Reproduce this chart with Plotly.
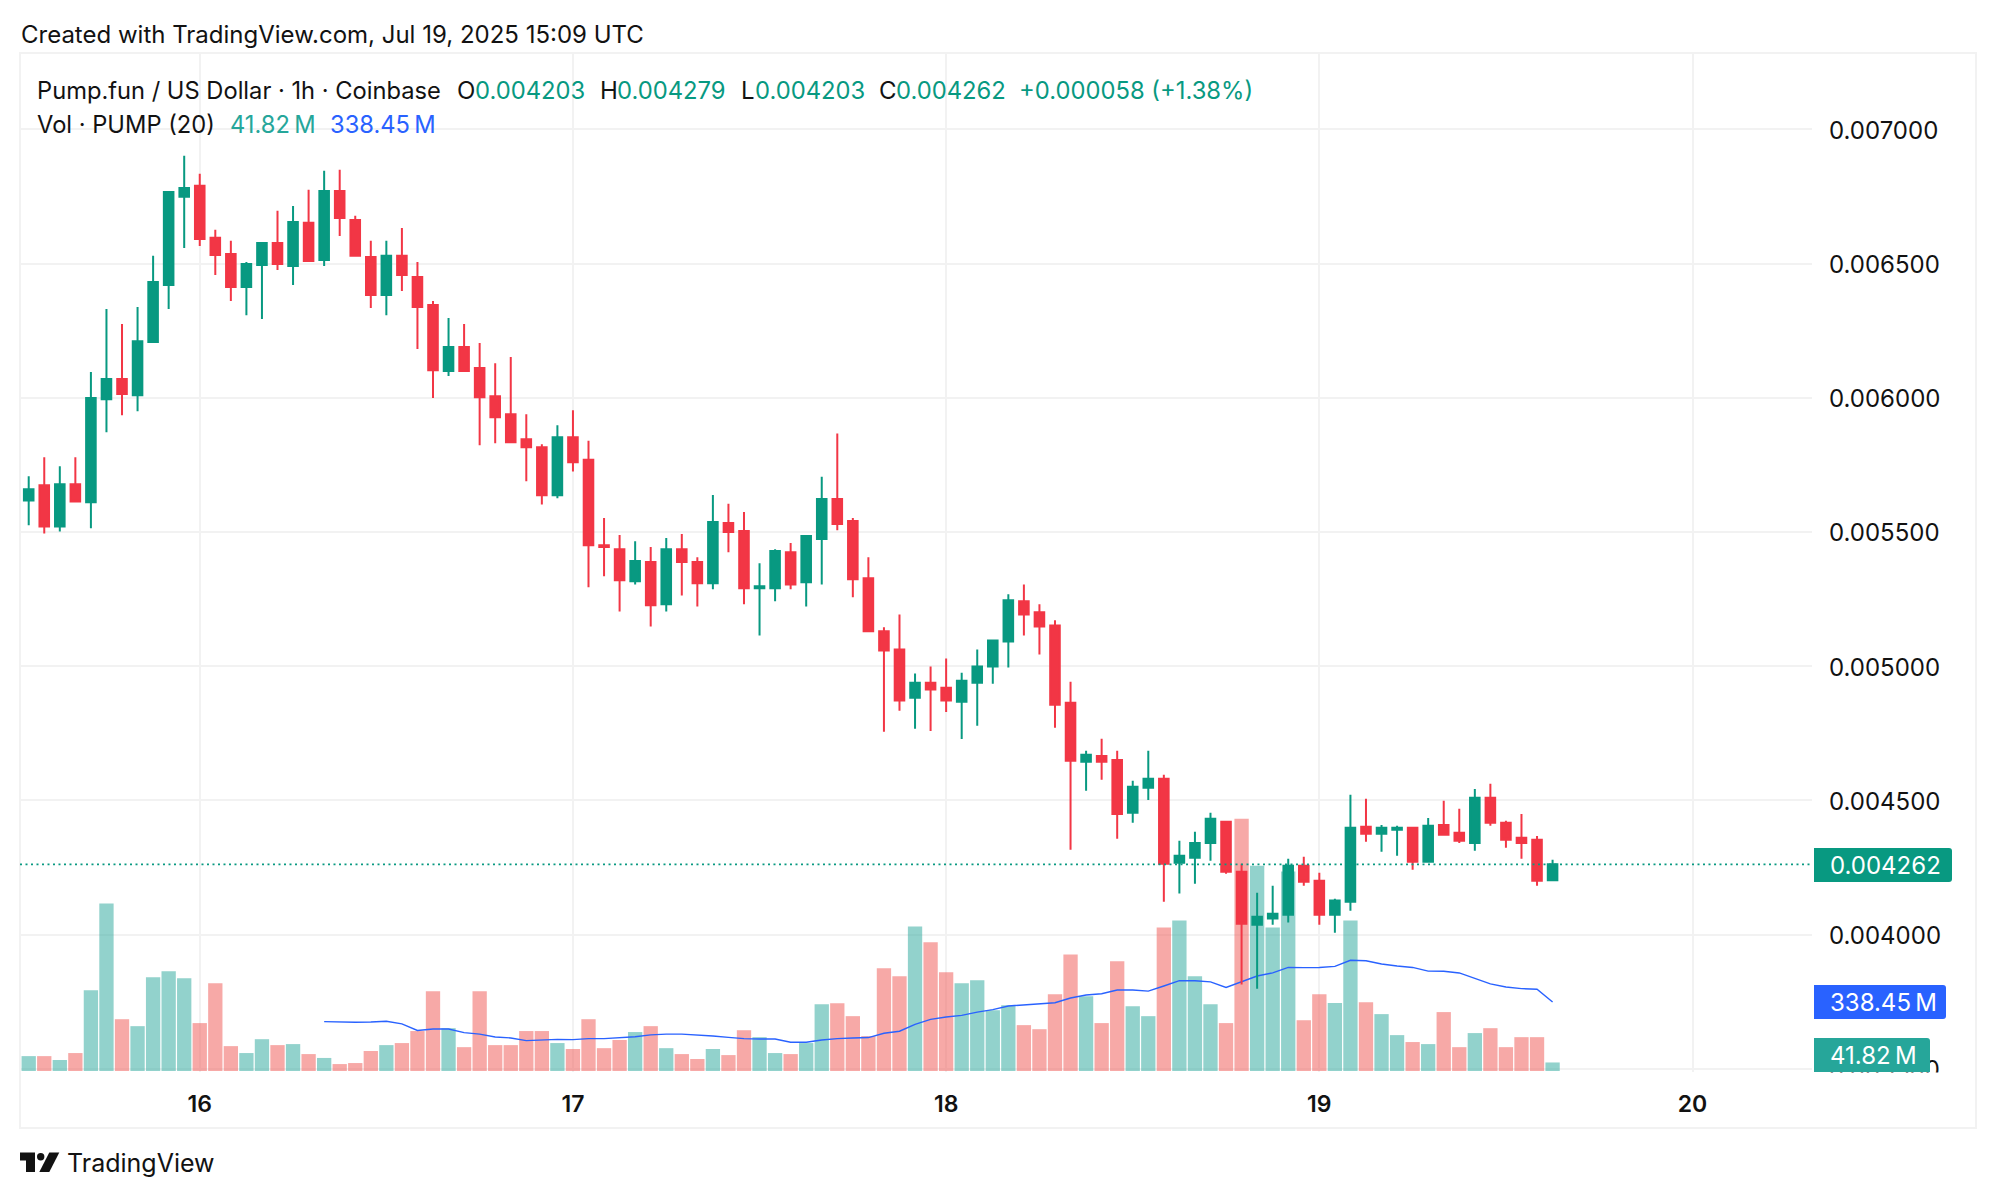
import pandas as pd
import plotly.graph_objects as go

# prices are in millionths of a dollar, volumes in millions
opens = [5618,5674,5521,5678,5611,5995,6070,6010,6208,6420,6749,6790,6596,6536,6413,6495,6577,6491,6652,6514,
         6771,6663,6525,6383,6529,6450,6346,6100,6189,6111,6006,5939,5846,5816,5637,5853,5769,5451,5436,5317,
         5388,5231,5436,5388,5309,5534,5504,5291,5291,5425,5313,5474,5623,5541,5328,5130,5062,4883,4939,4920,
         4868,4939,4999,5092,5242,5201,5152,4864,4644,4666,4651,4454,4547,4581,4268,4287,4342,4421,4234,4037,
         4060,4074,4257,4201,4074,4123,4402,4376,4391,4398,4272,4409,4380,4342,4510,4417,4361,4354,4203]
highs = [5708,5779,5745,5779,6096,6331,6275,6338,6529,6767,6902,6835,6626,6585,6506,6581,6697,6715,6775,6846,
         6850,6678,6585,6585,6633,6506,6361,6297,6275,6204,6129,6152,5939,5827,5898,5954,5840,5552,5489,5466,
         5444,5478,5493,5406,5638,5605,5575,5384,5436,5459,5489,5706,5867,5552,5406,5145,5193,4973,4999,5029,
         4976,5062,5100,5268,5305,5231,5171,4942,4685,4730,4685,4573,4685,4596,4350,4383,4454,4421,4264,4156,
         4182,4283,4290,4231,4134,4521,4506,4409,4406,4398,4435,4499,4469,4543,4562,4424,4450,4368,4279]
lows = [5525,5495,5502,5614,5514,5872,5935,5950,6204,6331,6558,6566,6458,6361,6308,6294,6476,6420,6510,6491,
        6603,6529,6335,6308,6398,6182,5999,6081,6100,5823,5831,5835,5689,5603,5626,5726,5294,5335,5204,5305,
        5148,5204,5264,5223,5287,5425,5231,5115,5242,5287,5223,5305,5507,5257,5130,4756,4834,4767,4759,4830,
        4729,4778,4935,4995,5115,5044,4771,4316,4536,4577,4357,4417,4502,4123,4153,4190,4275,4227,3814,3799,
        4037,4045,4182,4037,4007,4089,4346,4309,4294,4242,4272,4372,4342,4313,4406,4324,4283,4182,4203]
closes = [5659,5521,5678,5614,5999,6070,6014,6211,6432,6767,6782,6592,6532,6413,6499,6577,6499,6655,6510,6771,
          6670,6529,6383,6529,6458,6338,6103,6189,6100,6002,5928,5835,5816,5637,5853,5760,5451,5444,5320,5392,
          5227,5436,5388,5309,5537,5500,5291,5298,5429,5305,5485,5623,5530,5324,5130,5059,4872,4939,4913,4872,
          4946,4999,5096,5246,5193,5148,4857,4648,4670,4644,4450,4551,4581,4264,4294,4342,4432,4234,4041,4067,
          4078,4257,4197,4074,4127,4398,4376,4398,4398,4272,4406,4372,4350,4510,4417,4354,4342,4201,4262]
volumes = [73,73,54,88,396,822,254,220,460,489,455,235,430,122,88,156,127,132,83,64,
           34,39,98,127,137,196,391,210,117,391,127,127,196,196,137,108,254,112,152,191,
           220,112,83,59,108,78,200,166,88,83,137,328,332,269,171,504,465,709,631,484,
           430,445,298,323,225,205,377,572,367,235,538,318,269,704,738,465,328,235,1237,1007,
           704,978,249,377,333,738,337,279,176,142,132,289,117,186,210,117,166,166,41.82]
vol_ma = [242,240,239,240,244,231,199,206,206,188,181,167,162,149,152,155,154,159,159,163,
          168,177,181,181,177,172,165,159,157,157,141,141,152,159,162,164,185,195,229,253,
          265,273,289,301,319,324,329,335,358,373,379,397,397,392,417,443,443,437,410,437,
          466,481,508,507,508,513,543,541,525,515,508,490,489,481,453,427,412,404,401,338.45]
times = pd.date_range("2025-07-15 13:00", periods=len(opens), freq="1h")
day_ticks = ["2025-07-16", "2025-07-17", "2025-07-18", "2025-07-19", "2025-07-20"]
day_labels = ["16", "17", "18", "19", "20"]

UP = "#089981"
DOWN = "#F23645"
BLUE = "#2962FF"
GRID = "#F2F2F2"
INK = "#121212"
FONT = "Inter"

L, R, T, B = 20, 1812, 54, 1072


def px(x):
    return (x - L) / (R - L)


def py(y):
    return (B - y) / (B - T)


def tag_path(x0, x1, y0, y1, r=3, round_bottom=True):
    # label box, square on the left and rounded on the right
    p = f"M{px(x0)},{py(y0)} L{px(x1 - r)},{py(y0)} Q{px(x1)},{py(y0)} {px(x1)},{py(y0 + r)} "
    if round_bottom:
        p += f"L{px(x1)},{py(y1 - r)} Q{px(x1)},{py(y1)} {px(x1 - r)},{py(y1)} "
    else:
        p += f"L{px(x1)},{py(y1)} "
    return p + f"L{px(x0)},{py(y1)} Z"


vol_colors = ["rgba(38,166,154,0.5)" if c >= o else "rgba(239,83,80,0.5)" for o, c in zip(opens, closes)]

fig = go.Figure()
fig.add_trace(go.Bar(x=times, y=volumes, marker_color=vol_colors, marker_line_width=0, yaxis="y"))
fig.add_trace(go.Scatter(x=times[19:], y=vol_ma, mode="lines", line=dict(color=BLUE, width=1.4), yaxis="y"))
fig.add_trace(go.Candlestick(
    x=times,
    open=[v / 1e6 for v in opens],
    high=[v / 1e6 for v in highs],
    low=[v / 1e6 for v in lows],
    close=[v / 1e6 for v in closes],
    increasing=dict(line=dict(color=UP, width=2), fillcolor=UP),
    decreasing=dict(line=dict(color=DOWN, width=2), fillcolor=DOWN),
    whiskerwidth=0,
    yaxis="y2",
))


def text(x, y, s, color=INK, size=24, anchor="left", weight=400):
    fig.add_annotation(xref="paper", yref="paper", x=px(x), y=py(y), text=s, showarrow=False,
                       xanchor=anchor, yanchor="middle", xshift=0, borderpad=0,
                       font=dict(family=FONT, size=size, color=color, weight=weight))


text(20, 35, "Created with TradingView.com, Jul 19, 2025 15:09 UTC")
text(36, 90, "Pump.fun / US Dollar · 1h · Coinbase", size=23.7)
for x, s in [(456, "O"), (599, "H"), (740, "L"), (878, "C")]:
    text(x, 90, s)
for x, s in [(474, "0.004203"), (616, "0.004279"), (754, "0.004203"), (895, "0.004262"),
             (1018, "+0.000058 (+1.38%)")]:
    text(x, 90, s, color=UP, size=23.8)
text(36, 124, "Vol · PUMP (20)", size=23.7)
text(229, 124, "41.82\u2009M", color="#26A69A", size=23.7)
text(329, 124, "338.45\u2009M", color=BLUE, size=23.7)

text(1829, 865, "0.004262", color="white")
text(1829, 1002, "338.45\u2009M", color="white")
text(1829, 1055, "41.82\u2009M", color="white")
text(66, 1163, "TradingView", size=25)

shapes = [
    dict(type="rect", xref="paper", yref="paper", x0=px(20), x1=px(1976), y0=py(53), y1=py(1128),
         line=dict(color=GRID, width=2), layer="below"),
    dict(type="line", xref="paper", yref="y2", x0=0, x1=1, y0=closes[-1] / 1e6, y1=closes[-1] / 1e6,
         line=dict(color=UP, width=1.6, dash="2px,3.5px"), layer="above"),
    dict(type="rect", xref="paper", yref="paper", x0=px(1813), x1=px(1974), y0=py(1072.5), y1=py(1100),
         fillcolor="white", line_width=0, layer="above"),
    dict(type="path", xref="paper", yref="paper", path=tag_path(1814, 1952, 848, 882),
         fillcolor=UP, line_width=0, layer="above"),
    dict(type="path", xref="paper", yref="paper", path=tag_path(1814, 1946, 985, 1019),
         fillcolor=BLUE, line_width=0, layer="above"),
    dict(type="path", xref="paper", yref="paper", path=tag_path(1814, 1930, 1038, 1072, round_bottom=False),
         fillcolor="#26A69A", line_width=0, layer="above"),
    # TradingView logo
    dict(type="path", xref="paper", yref="paper", fillcolor=INK, line_width=0, layer="above",
         path=f"M{px(20)},{py(1152.5)} L{px(35)},{py(1152.5)} L{px(35)},{py(1172)} L{px(26)},{py(1172)} "
              f"L{px(26)},{py(1160.5)} L{px(20)},{py(1160.5)} Z"),
    dict(type="circle", xref="paper", yref="paper", fillcolor=INK, line_width=0, layer="above",
         x0=px(37), x1=px(44.4), y0=py(1153), y1=py(1160.4)),
    dict(type="path", xref="paper", yref="paper", fillcolor=INK, line_width=0, layer="above",
         path=f"M{px(49.3)},{py(1152.5)} L{px(59.3)},{py(1152.5)} L{px(49.3)},{py(1172)} L{px(39.3)},{py(1172)} Z"),
]

fig.update_layout(
    width=1996, height=1198,
    margin=dict(l=L, r=1996 - R, t=T, b=1198 - B, autoexpand=False),
    paper_bgcolor="white", plot_bgcolor="white",
    showlegend=False, bargap=0.08, boxgap=0.12,
    shapes=shapes,
    xaxis=dict(
        type="date", range=["2025-07-15 12:26:24", "2025-07-20 07:41:00"],
        rangeslider=dict(visible=False),
        tickmode="array", tickvals=day_ticks, ticktext=day_labels,
        showgrid=True, gridcolor=GRID, gridwidth=1.5, zeroline=False, showline=False, ticks="",
        ticklabelstandoff=16,
        tickfont=dict(family=FONT, size=23, color=INK, weight=600),
    ),
    yaxis=dict(range=[-4.9, 4988], visible=False, showgrid=False, zeroline=False),
    yaxis2=dict(
        overlaying="y", side="right", range=[0.0034884, 0.007281],
        tick0=0, dtick=0.0005, tickformat=".6f",
        showgrid=True, gridcolor=GRID, gridwidth=1.5, zeroline=False, showline=False, ticks="",
        ticklabelstandoff=16, ticklabelshift=1,
        tickfont=dict(family=FONT, size=24, color=INK),
    ),
)

fig.write_html("out.html", config=dict(displayModeBar=False),
               post_script="document.body.style.margin='0';document.documentElement.style.overflow='hidden';")
